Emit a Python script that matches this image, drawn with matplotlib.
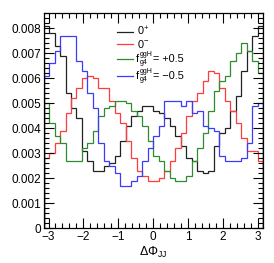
import numpy as np
import matplotlib as mpl
mpl.use('Agg')
import matplotlib.pyplot as plt
from matplotlib.ticker import MultipleLocator, FuncFormatter

plt.rcParams['font.family'] = ['Liberation Sans', 'DejaVu Sans']
plt.rcParams['mathtext.fontset'] = 'custom'
plt.rcParams['mathtext.rm'] = 'Liberation Sans'
plt.rcParams['mathtext.it'] = 'Liberation Sans:italic'

# 40 bins in dPhi_JJ from -pi to pi
nbins = 40
edges = np.linspace(-np.pi, np.pi, nbins+1)

h_0p = [0.0081, 0.0078, 0.0073, 0.0069, 0.0054, 0.0048, 0.0044, 0.0031, 0.0027, 0.0023,
        0.0023, 0.0025, 0.0026, 0.0029, 0.0035, 0.0041, 0.0045, 0.0047, 0.0049, 0.0049,
        0.0047, 0.0046, 0.0044, 0.0041, 0.0037, 0.0033, 0.0028, 0.0027, 0.0023, 0.0022,
        0.0023, 0.0033, 0.0038, 0.0040, 0.0047, 0.0053, 0.0063, 0.0071, 0.0077, 0.0081]

h_0m = [0.0028, 0.0030, 0.0034, 0.0039, 0.0046, 0.0052, 0.0056, 0.0060, 0.0061, 0.0060,
        0.0056, 0.0056, 0.0051, 0.0046, 0.0042, 0.0035, 0.0028, 0.0023, 0.0021, 0.0019,
        0.0019, 0.0020, 0.0023, 0.0027, 0.0032, 0.0038, 0.0045, 0.0051, 0.0054, 0.0059,
        0.0063, 0.0062, 0.0056, 0.0051, 0.0047, 0.0042, 0.0036, 0.0031, 0.0031, 0.0027]

h_pos = [0.0050, 0.0042, 0.0037, 0.0034, 0.0027, 0.0027, 0.0027, 0.0032, 0.0034, 0.0039,
         0.0045, 0.0048, 0.0049, 0.0051, 0.0051, 0.0050, 0.0047, 0.0045, 0.0041, 0.0035,
         0.0029, 0.0027, 0.0023, 0.0020, 0.0019, 0.0019, 0.0021, 0.0027, 0.0032, 0.0038,
         0.0047, 0.0055, 0.0059, 0.0061, 0.0067, 0.0070, 0.0074, 0.0071, 0.0067, 0.0062]

h_neg = [0.0061, 0.0066, 0.0071, 0.0077, 0.0077, 0.0077, 0.0067, 0.0063, 0.0054, 0.0048,
         0.0034, 0.0027, 0.0025, 0.0022, 0.0017, 0.0017, 0.0019, 0.0021, 0.0027, 0.0032,
         0.0037, 0.0041, 0.0051, 0.0051, 0.0051, 0.0049, 0.0051, 0.0046, 0.0047, 0.0041,
         0.0040, 0.0039, 0.0029, 0.0027, 0.0027, 0.0027, 0.0028, 0.0034, 0.0049, 0.0050]

colors = ['#222222', '#ff3b3b', '#2e8b2e', '#3b3bff']
fvals = ['= +0.5', '= \u22120.5']

fig = plt.figure(figsize=(2.74, 2.63), dpi=100)
ax = fig.add_axes([0.159, 0.132, 0.801, 0.817])

for h, c in zip([h_0p, h_0m, h_pos, h_neg], colors):
    ax.stairs(h, edges, color=c, lw=0.9)

# legend by hand (rows packed tighter than ax.legend allows)
leg_y = [0.915, 0.858, 0.788, 0.708]
for y, c in zip(leg_y, colors):
    ax.plot([0.335, 0.408], [y, y], color=c, lw=0.9, transform=ax.transAxes)
kw = dict(transform=ax.transAxes, va='center', ha='left')
ax.text(0.426, leg_y[0], '0$^{+}$', fontsize=7.8, **kw)
ax.text(0.426, leg_y[1], '0$^{-}$', fontsize=7.8, **kw)
for y, v in zip(leg_y[2:], fvals):
    ax.text(0.420, y, 'f', fontsize=7.8, **kw)
    ax.text(0.436, y+0.021, 'ggH', fontsize=5.0, **kw)
    ax.text(0.436, y-0.017, 'g4', fontsize=5.0, **kw)
    ax.text(0.498, y, v, fontsize=7.8, **kw)

ax.set_xlim(-np.pi, np.pi)
ax.set_ylim(0, 0.0086)

ax.xaxis.set_major_locator(MultipleLocator(1))
ax.xaxis.set_minor_locator(MultipleLocator(0.2))
ax.yaxis.set_major_locator(MultipleLocator(0.001))
ax.yaxis.set_minor_locator(MultipleLocator(0.0002))
ax.yaxis.set_major_formatter(FuncFormatter(lambda v, p: '%g' % round(v, 4)))
ax.xaxis.set_major_formatter(FuncFormatter(lambda v, p: ('%d' % round(v)).replace('-', '\u2212')))

ax.tick_params(which='both', direction='in', top=True, right=True, labelsize=8.5, pad=2)
ax.tick_params(which='major', length=7, width=0.8)
ax.tick_params(which='minor', length=3.5, width=0.8)
for s in ax.spines.values():
    s.set_linewidth(0.9)

ax.set_xlabel('\u0394\u03a6$_{\\rm JJ}$', fontsize=9, labelpad=1)

plt.savefig('out.png', dpi=100)
plt.close()
